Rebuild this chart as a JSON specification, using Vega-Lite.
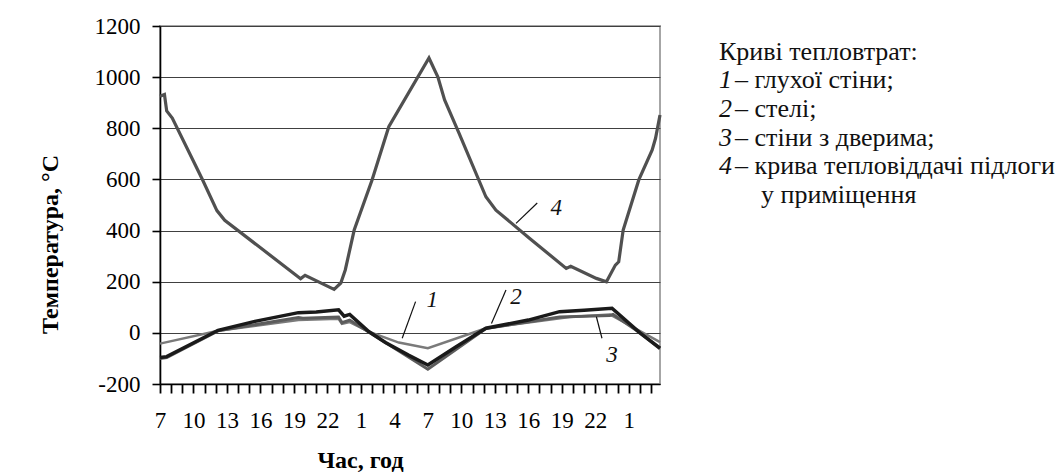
{
  "$schema": "https://vega.github.io/schema/vega-lite/v6.json",
  "background": "white",
  "autosize": {"type": "pad"},
  "padding": {"left": 37, "top": 14, "right": 0, "bottom": 0},
  "config": {"font": "Liberation Serif, Times New Roman, serif", "view": {"stroke": null}, "axis": {"ticks": true}},
  "datasets": {
    "curves": [
      {"c": "4", "h": 0, "v": 925}, {"c": "4", "h": 0.4, "v": 932}, {"c": "4", "h": 0.6, "v": 868}, {"c": "4", "h": 1.1, "v": 840},
      {"c": "4", "h": 3.8, "v": 600}, {"c": "4", "h": 5.1, "v": 478}, {"c": "4", "h": 5.8, "v": 440}, {"c": "4", "h": 12.6, "v": 212},
      {"c": "4", "h": 13.0, "v": 225}, {"c": "4", "h": 15.6, "v": 170}, {"c": "4", "h": 16.2, "v": 195}, {"c": "4", "h": 16.6, "v": 246},
      {"c": "4", "h": 17.4, "v": 402}, {"c": "4", "h": 19.0, "v": 598}, {"c": "4", "h": 20.5, "v": 806}, {"c": "4", "h": 24.1, "v": 1075},
      {"c": "4", "h": 24.9, "v": 1000}, {"c": "4", "h": 25.5, "v": 911}, {"c": "4", "h": 26.8, "v": 780}, {"c": "4", "h": 29.2, "v": 532},
      {"c": "4", "h": 30.1, "v": 480}, {"c": "4", "h": 33.1, "v": 370}, {"c": "4", "h": 36.4, "v": 252}, {"c": "4", "h": 36.8, "v": 260},
      {"c": "4", "h": 39.1, "v": 213}, {"c": "4", "h": 40.0, "v": 200}, {"c": "4", "h": 40.8, "v": 265}, {"c": "4", "h": 41.1, "v": 278},
      {"c": "4", "h": 41.5, "v": 402}, {"c": "4", "h": 42.9, "v": 598}, {"c": "4", "h": 44.1, "v": 715}, {"c": "4", "h": 44.4, "v": 761},
      {"c": "4", "h": 44.8, "v": 852},

      {"c": "1", "h": 0, "v": -42}, {"c": "1", "h": 5.2, "v": 8}, {"c": "1", "h": 12.4, "v": 50}, {"c": "1", "h": 16.0, "v": 55},
      {"c": "1", "h": 16.3, "v": 35}, {"c": "1", "h": 17.0, "v": 42}, {"c": "1", "h": 18.7, "v": 5}, {"c": "1", "h": 21.4, "v": -38},
      {"c": "1", "h": 24.0, "v": -60}, {"c": "1", "h": 29.2, "v": 18}, {"c": "1", "h": 36.7, "v": 62}, {"c": "1", "h": 40.3, "v": 72},
      {"c": "1", "h": 42.4, "v": 22}, {"c": "1", "h": 44.8, "v": -36},

      {"c": "3", "h": 0, "v": -100}, {"c": "3", "h": 0.6, "v": -97}, {"c": "3", "h": 5.2, "v": 8}, {"c": "3", "h": 12.4, "v": 60},
      {"c": "3", "h": 12.8, "v": 57}, {"c": "3", "h": 16.0, "v": 62}, {"c": "3", "h": 16.3, "v": 40}, {"c": "3", "h": 17.0, "v": 50},
      {"c": "3", "h": 18.7, "v": 3}, {"c": "3", "h": 24.0, "v": -142}, {"c": "3", "h": 29.2, "v": 17}, {"c": "3", "h": 35.8, "v": 62},
      {"c": "3", "h": 40.3, "v": 68}, {"c": "3", "h": 40.6, "v": 72}, {"c": "3", "h": 43.0, "v": 0}, {"c": "3", "h": 44.8, "v": -62},

      {"c": "2", "h": 0, "v": -96}, {"c": "2", "h": 0.6, "v": -93}, {"c": "2", "h": 5.2, "v": 10}, {"c": "2", "h": 8.5, "v": 45},
      {"c": "2", "h": 12.4, "v": 79}, {"c": "2", "h": 14.0, "v": 82}, {"c": "2", "h": 16.0, "v": 90}, {"c": "2", "h": 16.5, "v": 65},
      {"c": "2", "h": 17.0, "v": 72}, {"c": "2", "h": 18.7, "v": 5}, {"c": "2", "h": 20.2, "v": -38}, {"c": "2", "h": 22.3, "v": -88},
      {"c": "2", "h": 24.0, "v": -126}, {"c": "2", "h": 26.5, "v": -55}, {"c": "2", "h": 29.2, "v": 18}, {"c": "2", "h": 33.0, "v": 50},
      {"c": "2", "h": 35.8, "v": 83}, {"c": "2", "h": 38.0, "v": 88}, {"c": "2", "h": 40.5, "v": 96}, {"c": "2", "h": 43.0, "v": 0},
      {"c": "2", "h": 44.8, "v": -60}
    ],
    "hours": [
      {"h": 0}, {"h": 1}, {"h": 2}, {"h": 3}, {"h": 4}, {"h": 5}, {"h": 6}, {"h": 7}, {"h": 8}, {"h": 9},
      {"h": 10}, {"h": 11}, {"h": 12}, {"h": 13}, {"h": 14}, {"h": 15}, {"h": 16}, {"h": 17}, {"h": 18}, {"h": 19},
      {"h": 20}, {"h": 21}, {"h": 22}, {"h": 23}, {"h": 24}, {"h": 25}, {"h": 26}, {"h": 27}, {"h": 28}, {"h": 29},
      {"h": 30}, {"h": 31}, {"h": 32}, {"h": 33}, {"h": 34}, {"h": 35}, {"h": 36}, {"h": 37}, {"h": 38}, {"h": 39},
      {"h": 40}, {"h": 41}, {"h": 42}, {"h": 43}, {"h": 44}
    ],
    "notes": [
      {"kind": "lead", "h": 21.7, "v": -21, "h2": 22.9, "v2": 122},
      {"kind": "lead", "h": 29.7, "v": 37, "h2": 31.0, "v2": 168},
      {"kind": "lead", "h": 39.1, "v": 63, "h2": 39.6, "v2": -21},
      {"kind": "lead", "h": 33.8, "v": 508, "h2": 31.9, "v2": 428},
      {"kind": "label", "label": "1", "h": 24.4, "v": 128},
      {"kind": "label", "label": "2", "h": 31.9, "v": 141},
      {"kind": "label", "label": "3", "h": 40.5, "v": -87},
      {"kind": "label", "label": "4", "h": 35.5, "v": 488}
    ],
    "legend": [
      {"row": 0, "kind": "title", "num": "", "text": "Криві тепловтрат:"},
      {"row": 1, "kind": "item", "num": "1", "text": "– глухої стіни;"},
      {"row": 2, "kind": "item", "num": "2", "text": "– стелі;"},
      {"row": 3, "kind": "item", "num": "3", "text": "– стіни з дверима;"},
      {"row": 4, "kind": "item", "num": "4", "text": "– крива тепловіддачі підлоги"},
      {"row": 5, "kind": "cont", "num": "", "text": "у приміщення"}
    ]
  },
  "spacing": 51,
  "hconcat": [
    {
      "width": 500,
      "height": 358,
      "view": {"stroke": "#a6a6a6", "strokeWidth": 2},
      "encoding": {
        "x": {"field": "h", "type": "quantitative", "scale": {"domain": [0, 44.8], "nice": false, "zero": false},
          "axis": {"values": [0,1,2,3,4,5,6,7,8,9,10,11,12,13,14,15,16,17,18,19,20,21,22,23,24,25,26,27,28,29,30,31,32,33,34,35,36,37,38,39,40,41,42,43,44],
            "labelExpr": "datum.value % 3 === 0 ? '' + ((datum.value + 7) % 24) : ''",
            "grid": false, "ticks": true, "tickOpacity": 1, "labelOverlap": false, "labelFlush": false, "tickSize": 9, "tickColor": "#000", "tickWidth": 1.8,
            "domain": true, "domainColor": "#000", "domainWidth": 1.6, "labelFontSize": 23, "labelColor": "#000",
            "labelPadding": 16, "title": "Час, год", "titleFontSize": 24, "titleFontWeight": "bold",
            "titleColor": "#000", "titlePadding": 16, "titleX": 200}},
        "y": {"field": "v", "type": "quantitative", "scale": {"domain": [-200, 1200], "nice": false, "zero": false},
          "axis": {"values": [-200, 0, 200, 400, 600, 800, 1000, 1200], "labelExpr": "'' + datum.value",
            "grid": true, "gridColor": "#404040", "gridWidth": 1.2, "ticks": true, "tickSize": 8, "tickColor": "#000", "tickWidth": 1.6,
            "domainColor": "#000", "domainWidth": 1.6, "labelFontSize": 23, "labelColor": "#000",
            "labelPadding": 12, "labelFlush": false, "title": "Температура, °С", "titleFontSize": 24,
            "titleFontWeight": "bold", "titleColor": "#000", "titlePadding": 32, "titleY": 218}}
      },
      "layer": [
        {
          "data": {"name": "hours"},
          "mark": {"type": "rule", "color": "#000", "strokeWidth": 1.6, "clip": false},
          "encoding": {"y": {"datum": -200}, "y2": {"datum": -235}}
        },
        {
          "data": {"name": "curves"},
          "transform": [{"filter": "datum.c === '4'"}],
          "mark": {"type": "line", "color": "#505050", "strokeWidth": 3.2}
        },
        {
          "data": {"name": "curves"},
          "transform": [{"filter": "datum.c === '1'"}],
          "mark": {"type": "line", "color": "#7a7a7a", "strokeWidth": 2.5}
        },
        {
          "data": {"name": "curves"},
          "transform": [{"filter": "datum.c === '3'"}],
          "mark": {"type": "line", "color": "#5c5c5c", "strokeWidth": 3}
        },
        {
          "data": {"name": "curves"},
          "transform": [{"filter": "datum.c === '2'"}],
          "mark": {"type": "line", "color": "#1a1a1a", "strokeWidth": 3.5}
        },
        {
          "data": {"name": "notes"},
          "transform": [{"filter": "datum.kind === 'lead'"}],
          "mark": {"type": "rule", "color": "#111", "strokeWidth": 1.2},
          "encoding": {"x2": {"field": "h2"}, "y2": {"field": "v2"}}
        },
        {
          "data": {"name": "notes"},
          "transform": [{"filter": "datum.kind === 'label'"}],
          "mark": {"type": "text", "fontSize": 23, "fontStyle": "italic", "color": "#111", "align": "center", "baseline": "middle"},
          "encoding": {"text": {"field": "label"}}
        }
      ]
    },
    {
      "width": 340,
      "height": 194.5,
      "data": {"name": "legend"},
      "encoding": {
        "y": {"field": "row", "type": "ordinal", "scale": {"type": "point", "padding": 0.912}, "axis": null},
        "x": {"datum": 0, "type": "quantitative", "scale": {"domain": [0, 1]}, "axis": null}
      },
      "layer": [
        {
          "transform": [{"filter": "datum.kind === 'title'"}],
          "mark": {"type": "text", "fontSize": 26, "color": "#111", "align": "left", "baseline": "middle"},
          "encoding": {"text": {"field": "text"}}
        },
        {
          "transform": [{"filter": "datum.kind === 'item'"}],
          "mark": {"type": "text", "fontSize": 26, "fontStyle": "italic", "color": "#111", "align": "left", "baseline": "middle"},
          "encoding": {"text": {"field": "num"}}
        },
        {
          "transform": [{"filter": "datum.kind === 'item'"}],
          "mark": {"type": "text", "fontSize": 26, "color": "#111", "align": "left", "baseline": "middle", "dx": 16},
          "encoding": {"text": {"field": "text"}}
        },
        {
          "transform": [{"filter": "datum.kind === 'cont'"}],
          "mark": {"type": "text", "fontSize": 26, "color": "#111", "align": "left", "baseline": "middle", "dx": 42},
          "encoding": {"text": {"field": "text"}}
        }
      ]
    }
  ]
}
